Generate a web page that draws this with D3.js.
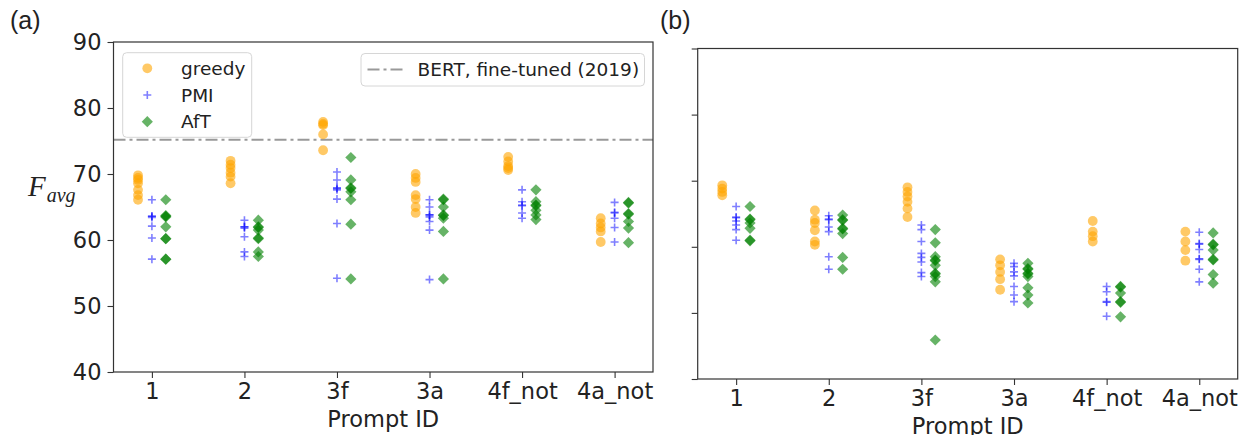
<!DOCTYPE html>
<html>
<head>
<meta charset="utf-8">
<script src="https://cdn.jsdelivr.net/npm/d3@7"></script>
<style>
  html, body { margin: 0; padding: 0; background: #fff; }
  svg { display: block; }
  text { fill: #222; }
</style>
</head>
<body>
<svg id="chart" width="1244" height="435"></svg>
<script>
// Prompt IDs on the x axis
const categories = ["1", "2", "3f", "3a", "4f_not", "4a_not"];
const yTicks = [40, 50, 60, 70, 80, 90];
const bertFineTuned = 75.2;

// Panel (a): F_avg per run, one inner list per prompt
const greedyA = [
  [69.8, 69.4, 69.1, 68.6, 67.6, 66.8, 66.1],
  [72.0, 71.4, 70.9, 70.2, 69.6, 68.6],
  [77.9, 77.6, 77.4, 76.0, 73.6],
  [70.0, 69.4, 68.8, 66.8, 66.2, 65.0, 64.1],
  [72.6, 71.9, 71.2, 70.9, 70.6],
  [63.3, 62.5, 61.9, 61.3, 59.7]
];
const pmiA = [
  [66.1, 63.6, 63.6, 63.4, 62.1, 60.3, 57.1],
  [63.0, 62.0, 62.0, 61.8, 60.5, 58.2, 57.5],
  [70.3, 69.1, 67.9, 67.8, 67.6, 66.2, 62.5, 54.2],
  [66.1, 65.0, 63.8, 63.8, 63.5, 62.8, 61.5, 54.0],
  [67.6, 65.8, 65.3, 65.2, 64.1, 63.3],
  [65.7, 64.2, 64.1, 63.3, 61.9, 59.7]
];
const aftA = [
  [66.1, 63.7, 63.6, 63.5, 62.0, 60.2, 60.2, 57.1, 57.1],
  [63.0, 62.0, 61.9, 61.5, 60.3, 60.2, 58.2, 57.5],
  [72.5, 69.1, 67.9, 67.8, 67.3, 66.1, 62.4, 54.1],
  [66.2, 66.1, 65.0, 63.8, 63.7, 63.3, 61.3, 54.1],
  [67.6, 65.8, 65.3, 65.2, 64.5, 63.8, 63.1],
  [65.7, 65.6, 64.0, 63.9, 62.8, 61.8, 59.6]
];

// Panel (b)
const greedyB = [
  [69.3, 68.8, 68.3, 67.8],
  [65.5, 64.1, 63.6, 62.5, 60.8, 60.3],
  [69.0, 68.3, 67.6, 66.8, 65.8, 64.5],
  [58.1, 57.2, 56.2, 55.1, 53.5],
  [63.9, 62.3, 61.6, 60.8],
  [62.3, 60.8, 59.5, 57.9]
];
const pmiB = [
  [66.1, 64.5, 64.4, 63.9, 63.3, 62.6, 61.0],
  [64.7, 64.2, 64.1, 63.0, 62.3, 58.5, 56.6],
  [63.3, 62.6, 60.8, 59.0, 58.4, 57.7, 56.1, 55.5],
  [57.5, 57.0, 56.2, 55.6, 54.0, 52.7, 51.7],
  [54.0, 53.2, 51.7, 51.6, 49.5],
  [62.2, 60.5, 60.4, 59.6, 58.2, 58.1, 56.6, 54.7]
];
const aftB = [
  [66.1, 64.2, 64.1, 63.6, 62.8, 61.0, 60.9],
  [64.8, 64.1, 64.0, 62.8, 62.7, 62.0, 58.4, 56.6],
  [62.6, 60.6, 58.5, 58.0, 57.9, 57.2, 56.0, 55.9, 55.5, 54.7, 45.9],
  [57.5, 56.7, 56.6, 56.0, 55.9, 55.5, 53.8, 52.7, 51.5],
  [54.0, 53.9, 53.0, 51.7, 51.6, 49.4],
  [62.1, 60.4, 60.3, 59.5, 58.1, 58.0, 55.8, 54.5]
];

const svg = d3.select("#chart");
const FONT = "DejaVu Sans, sans-serif";

// marker shapes (centred at 0,0)
const markers = {
  greedy: { path: d3.symbol(d3.symbolCircle, Math.PI * 4.9 * 4.9)(), fill: "#FFA500", stroke: "none", opacity: 0.6 },
  pmi:    { path: "M-4,0H4M0,-4V4", fill: "none", stroke: "#0000FF", strokeWidth: 1.6, opacity: 0.5 },
  aft:    { path: "M0,-5.6L5.6,0L0,5.6L-5.6,0Z", fill: "#008000", stroke: "none", opacity: 0.6 }
};

function drawMarker(g, kind, x, y) {
  const m = markers[kind];
  g.append("path")
    .attr("d", m.path)
    .attr("transform", `translate(${x},${y})`)
    .attr("fill", m.fill)
    .attr("stroke", m.stroke)
    .attr("stroke-width", m.strokeWidth || 0)
    .attr("opacity", m.opacity);
}

function drawPanel(cfg) {
  const { left, top, width, height, series, showYLabels, tag, bert } = cfg;
  const g = svg.append("g");
  const x = d3.scaleLinear().domain([-0.415, categories.length - 1 + 0.415]).range([left, left + width]);
  const y = d3.scaleLinear().domain([40, 90]).range([top + height, top]);

  // reference line
  if (bert !== undefined) {
    g.append("line")
      .attr("x1", left).attr("x2", left + width)
      .attr("y1", y(bert)).attr("y2", y(bert))
      .attr("stroke", "#999").attr("stroke-width", 2)
      .attr("stroke-dasharray", "12,4,3,4");
  }

  // scatter points
  series.forEach(s => {
    s.values.forEach((vals, i) => {
      vals.forEach(v => drawMarker(g, s.kind, x(i + s.offset), y(v)));
    });
  });

  // x axis
  const xAxis = d3.axisBottom(x)
    .tickValues(d3.range(categories.length))
    .tickFormat(i => categories[i])
    .tickSize(6).tickPadding(5);
  const gx = g.append("g").attr("transform", `translate(0,${top + height})`).call(xAxis);
  gx.select(".domain").remove();
  gx.selectAll("line").attr("stroke", "#333").attr("stroke-width", 1.1);
  gx.selectAll("text").attr("font-family", FONT).attr("font-size", 22.5).attr("fill", "#222");

  // y axis
  const yAxis = d3.axisLeft(y).tickValues(yTicks).tickSize(6).tickPadding(6)
    .tickFormat(showYLabels ? d3.format("d") : () => "");
  const gy = g.append("g").attr("transform", `translate(${left},0)`).call(yAxis);
  gy.select(".domain").remove();
  gy.selectAll("line").attr("stroke", "#333").attr("stroke-width", 1.1);
  gy.selectAll("text").attr("font-family", FONT).attr("font-size", 22.5).attr("fill", "#222");

  // frame
  g.append("rect")
    .attr("x", left).attr("y", top).attr("width", width).attr("height", height)
    .attr("fill", "none").attr("stroke", "#333").attr("stroke-width", 1.2);

  // x label
  g.append("text")
    .attr("x", left + width / 2).attr("y", top + height + 55)
    .attr("text-anchor", "middle")
    .attr("font-family", FONT).attr("font-size", 22.5)
    .text("Prompt ID");

  // panel tag
  svg.append("text")
    .attr("x", tag.x).attr("y", 29)
    .attr("font-family", "Liberation Sans, Arial, sans-serif").attr("font-size", 25)
    .text(tag.text);

  return { x, y, g };
}

drawPanel({
  left: 113.5, top: 42, width: 539.5, height: 330,
  showYLabels: true, tag: { x: 10, text: "(a)" }, bert: bertFineTuned,
  series: [
    { kind: "greedy", values: greedyA, offset: -0.15 },
    { kind: "pmi", values: pmiA, offset: 0 },
    { kind: "aft", values: aftA, offset: 0.15 }
  ]
});

drawPanel({
  left: 697.7, top: 48.5, width: 540, height: 330.5,
  showYLabels: false, tag: { x: 660, text: "(b)" },
  series: [
    { kind: "greedy", values: greedyB, offset: -0.15 },
    { kind: "pmi", values: pmiB, offset: 0 },
    { kind: "aft", values: aftB, offset: 0.15 }
  ]
});

// y label: italic F with subscript "avg"
const ylab = svg.append("text")
  .attr("x", 28).attr("y", 196)
  .attr("font-family", "Liberation Serif, Times New Roman, serif")
  .attr("font-style", "italic");
ylab.append("tspan").attr("font-size", 29).text("F");
ylab.append("tspan").attr("font-size", 20).attr("dy", 6).attr("dx", 1).text("avg");

// legends in panel (a)
const legA = svg.append("g");
legA.append("rect")
  .attr("x", 122.7).attr("y", 52.7).attr("width", 129).attr("height", 84.6)
  .attr("rx", 4).attr("fill", "#fff").attr("fill-opacity", 0.8)
  .attr("stroke", "#d6d6d6").attr("stroke-width", 1);
const legendItems = [
  { kind: "greedy", label: "greedy" },
  { kind: "pmi", label: "PMI" },
  { kind: "aft", label: "AfT" }
];
legendItems.forEach((d, i) => {
  const cy = 68.3 + i * 26.7;
  drawMarker(legA, d.kind, 147.3, cy);
  legA.append("text")
    .attr("x", 181).attr("y", cy + 6.5)
    .attr("font-family", FONT).attr("font-size", 18.5)
    .text(d.label);
});

const legB = svg.append("g");
legB.append("rect")
  .attr("x", 361).attr("y", 53.5).attr("width", 283.5).attr("height", 32.5)
  .attr("rx", 4).attr("fill", "#fff").attr("fill-opacity", 0.8)
  .attr("stroke", "#d6d6d6").attr("stroke-width", 1);
legB.append("line")
  .attr("x1", 367.5).attr("x2", 403).attr("y1", 69.5).attr("y2", 69.5)
  .attr("stroke", "#999").attr("stroke-width", 2)
  .attr("stroke-dasharray", "12,4,3,4");
legB.append("text")
  .attr("x", 417.5).attr("y", 76)
  .attr("font-family", FONT).attr("font-size", 18.5)
  .text("BERT, fine-tuned (2019)");
</script>
</body>
</html>
